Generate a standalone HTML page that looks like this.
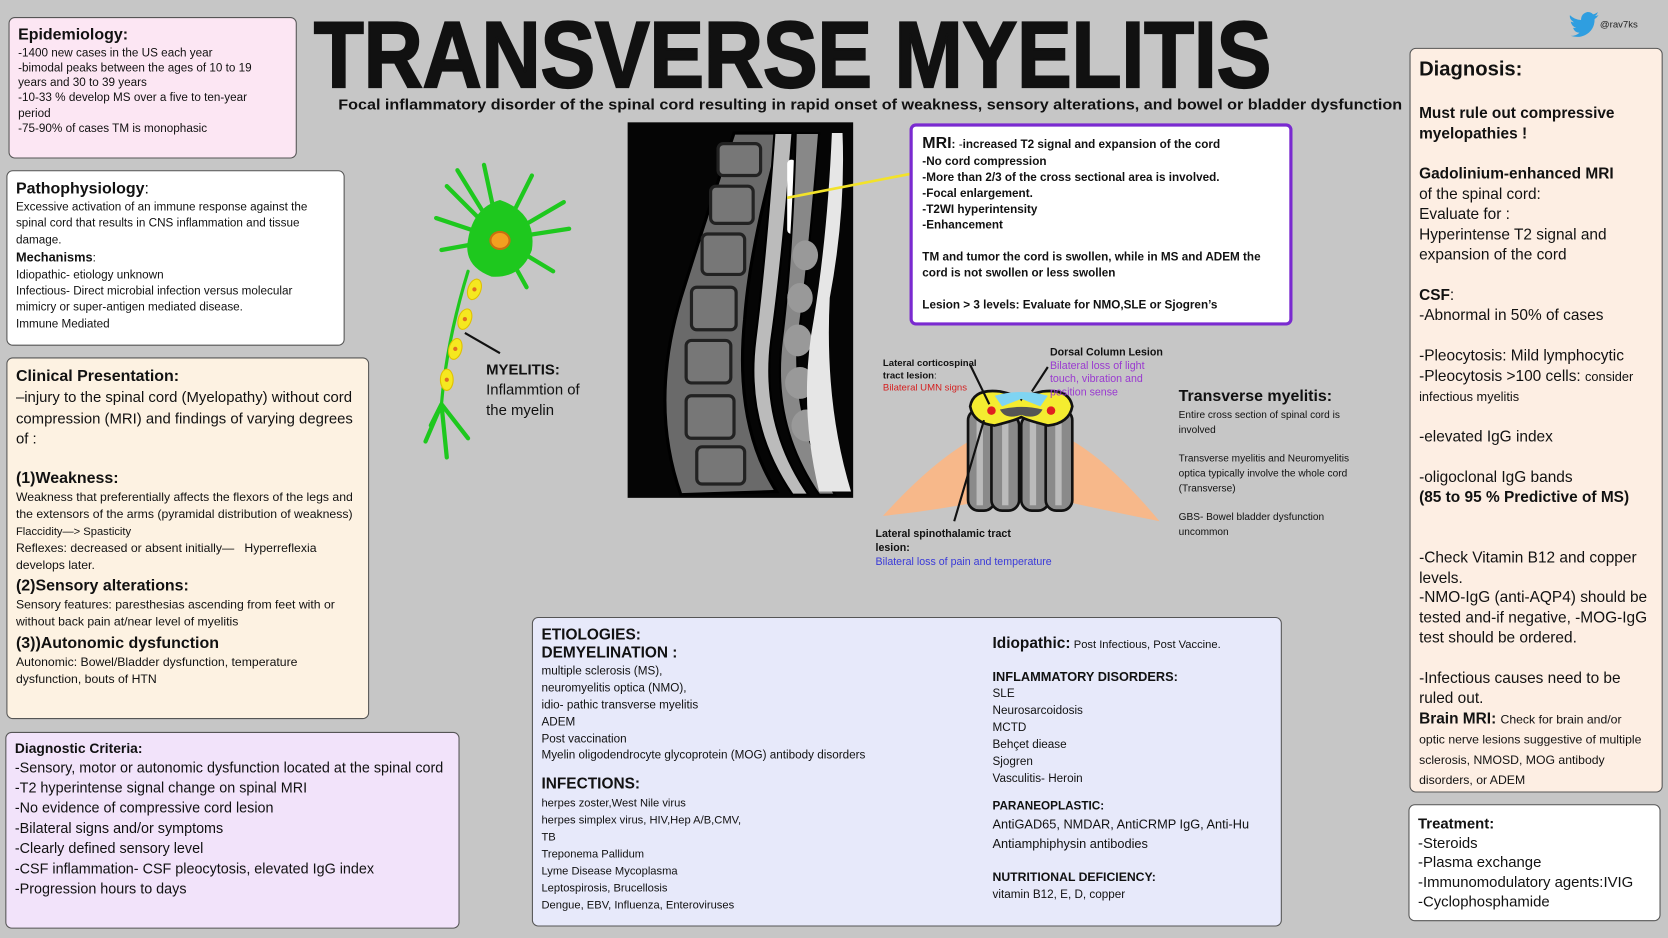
<!DOCTYPE html>
<html><head><meta charset="utf-8"><style>
html,body{margin:0;padding:0;width:1668px;height:938px;overflow:hidden;background:#c6c6c6;}
#w{position:absolute;left:0;top:0;width:1568px;height:882px;transform:scale(1.06378);transform-origin:0 0;font-family:"Liberation Sans","DejaVu Sans",sans-serif;color:#111;}
.b{position:absolute;border:1.5px solid #555;border-radius:6px;box-sizing:border-box;padding:6px 8px;line-height:1.3;}
.h{font-weight:bold;}
.abs{position:absolute;}
p{margin:0}
</style></head><body><div id="w">

<svg class="abs" style="left:0;top:0" width="1568" height="882">
<text x="295" y="82" font-family="Liberation Sans" font-weight="900" font-size="88" textLength="900" lengthAdjust="spacingAndGlyphs" fill="#111" stroke="#111" stroke-width="2">TRANSVERSE MYELITIS</text>
<text x="318" y="103" font-family="Liberation Sans" font-weight="bold" font-size="13.5" textLength="1000" lengthAdjust="spacingAndGlyphs" fill="#111">Focal inflammatory disorder of the spinal cord resulting in rapid onset of weakness, sensory alterations, and bowel or bladder dysfunction</text>
<g transform="translate(1475,9) scale(0.75)">
<path d="M1 7 q6 6 14 6 q0-8 8-10 q5 0 7 3 q4-1 6-3 q-1 4-4 5 q3 0 5-1 q-2 3-5 5 q0 14-12 20 q-8 4-18 1 q7 0 11-4 q-6 0-8-6 q2 0 4 0 q-6-2-7-8 q2 1 4 1 q-6-4-5-9z" fill="#2f9ee0"/></g>
<text x="1504" y="26" font-size="9" fill="#222">@rav7ks</text>
<rect x="590" y="115" width="212" height="353" fill="#050505"/>
<path d="M640 465 Q610 380 640 280 Q665 200 690 125 L735 125 Q705 230 700 300 Q690 400 730 462 Z" fill="#6a6a6a" stroke="#000" stroke-width="3"/>
<g fill="#777" stroke="#222" stroke-width="3">
<rect x="675" y="135" width="40" height="30" rx="5"/><rect x="668" y="175" width="40" height="35" rx="5"/><rect x="660" y="220" width="40" height="38" rx="5"/><rect x="650" y="270" width="42" height="40" rx="5"/><rect x="645" y="320" width="42" height="40" rx="5"/><rect x="645" y="372" width="45" height="40" rx="5"/><rect x="655" y="420" width="45" height="35" rx="5"/></g>
<path d="M728 125 L745 125 Q735 250 725 320 Q715 400 760 465 L745 465 Q700 400 710 320 Q720 240 728 125Z" fill="#bbb" stroke="#000" stroke-width="2"/>
<rect x="740" y="150" width="8" height="70" rx="4" fill="#fff"/>
<path d="M748 125 L770 125 Q760 250 750 320 Q745 400 785 465 L770 465 Q725 400 735 320 Q745 240 748 125Z" fill="#888" stroke="#000" stroke-width="2"/>
<g fill="#999"><ellipse cx="757" cy="240" rx="12" ry="14"/><ellipse cx="752" cy="280" rx="12" ry="14"/><ellipse cx="750" cy="320" rx="13" ry="15"/><ellipse cx="752" cy="360" rx="14" ry="15"/><ellipse cx="758" cy="400" rx="14" ry="15"/></g>
<path d="M782 125 L792 125 Q795 200 780 280 Q775 380 800 462 L770 462 Q750 380 765 300 Q778 220 782 125Z" fill="#e6e6e6"/>
<line x1="740" y1="186" x2="858" y2="163" stroke="#f2e22a" stroke-width="2.5"/>
<g stroke="#1ec81e" stroke-width="4" fill="none" stroke-linecap="round">
<path d="M470 225 L420 175 M470 225 L430 160 M470 225 L455 155 M470 225 L500 165 M470 225 L530 190 M470 225 L535 215 M470 225 L520 255 M470 225 L495 270 M470 225 L415 235 M470 225 L410 205"/>
<path d="M440 255 Q420 320 415 380" stroke-width="3"/>
<path d="M415 380 L400 415 M415 380 L420 430 M415 380 L440 412 M415 380 L405 400"/>
</g>
<path d="M470 188 Q505 200 500 235 Q490 262 462 260 Q435 250 440 225 Q445 195 470 188Z" fill="#1ec81e"/>
<ellipse cx="470" cy="226" rx="9" ry="8" fill="#f3a020" stroke="#c67010" stroke-width="2"/>
<g fill="#f5e820" stroke="#e0c000"><ellipse cx="446" cy="272" rx="6" ry="10" transform="rotate(20 446 272)"/><ellipse cx="437" cy="300" rx="6" ry="10" transform="rotate(20 437 300)"/><ellipse cx="428" cy="328" rx="6" ry="10" transform="rotate(15 428 328)"/><ellipse cx="420" cy="357" rx="6" ry="10"/></g>
<g fill="#e07020"><circle cx="446" cy="272" r="2"/><circle cx="437" cy="300" r="2"/><circle cx="428" cy="328" r="2"/><circle cx="420" cy="357" r="2"/></g>
<line x1="437" y1="313" x2="470" y2="332" stroke="#111" stroke-width="2"/>
<path d="M830 485 Q880 430 920 410 L928 470 Q880 480 830 485Z" fill="#f7b88a"/>
<path d="M1090 490 Q1040 430 1000 410 L995 470 Q1040 480 1090 490Z" fill="#f7b88a"/>
<g fill="#8a8a8a" stroke="#111" stroke-width="2.5"><rect x="910" y="385" width="25" height="95" rx="10"/><rect x="932" y="390" width="26" height="90" rx="10"/><rect x="960" y="390" width="26" height="90" rx="10"/><rect x="983" y="385" width="25" height="95" rx="10"/></g>
<g fill="#bbb"><rect x="918" y="395" width="6" height="80"/><rect x="942" y="395" width="6" height="80"/><rect x="968" y="395" width="6" height="80"/><rect x="992" y="395" width="6" height="80"/></g>
<path d="M912 382 Q915 365 940 368 Q958 372 960 375 Q962 372 980 368 Q1005 365 1008 382 Q1005 398 985 400 Q965 395 960 392 Q955 395 935 400 Q915 398 912 382Z" fill="#f4ec30" stroke="#111" stroke-width="2.5"/>
<path d="M935 372 Q960 365 985 372 L978 382 L960 375 L942 382Z" fill="#7fd4f2"/>
<path d="M940 385 Q960 380 980 385 Q975 395 960 390 Q945 395 940 385Z" fill="#555"/>
<circle cx="932" cy="386" r="4" fill="#e02020"/><circle cx="988" cy="386" r="4" fill="#e02020"/>
<line x1="912" y1="343" x2="930" y2="380" stroke="#111" stroke-width="2"/>
<line x1="970" y1="368" x2="985" y2="345" stroke="#111" stroke-width="2"/>
<line x1="925" y1="395" x2="897" y2="490" stroke="#111" stroke-width="2"/>
</svg>

<div class="abs" style="left:457px;top:338px;font-size:14px;line-height:1.35"><b>MYELITIS:</b><br>Inflammtion of<br>the myelin</div>

<div class="abs" style="left:830px;top:336px;font-size:9px;line-height:1.3"><b>Lateral corticospinal<br>tract lesion</b>:<br><span style="color:#d42020">Bilateral UMN signs</span></div>
<div class="abs" style="left:987px;top:326px;font-size:10px;line-height:1.25"><b>Dorsal Column Lesion</b><br><span style="color:#9a3ad0">Bilateral loss of light<br>touch, vibration and<br>position sense</span></div>
<div class="abs" style="left:823px;top:496px;font-size:10px;line-height:1.3"><b>Lateral spinothalamic tract<br>lesion:</b><br><span style="color:#3a3ad8">Bilateral loss of pain and temperature</span></div>
<div class="abs" style="left:1108px;top:362px;font-size:9.5px;line-height:1.45;width:178px"><div style="font-size:15px;font-weight:bold;width:220px">Transverse myelitis:</div>Entire cross section of spinal cord is involved<br><br>Transverse myelitis and Neuromyelitis optica typically involve the whole cord (Transverse)<br><br>GBS- Bowel bladder dysfunction uncommon</div>

<div class="b" style="left:8px;top:16px;width:271px;height:133px;background:#fce6f3;font-size:11px;padding-right:22px"><div class="h" style="font-size:15px">Epidemiology:</div>-1400 new cases in the US each year<br>-bimodal peaks between the ages of 10 to 19 years and 30 to 39 years<br>-10-33 % develop MS over a five to ten-year period<br>-75-90% of cases TM is monophasic</div>

<div class="b" style="left:6px;top:160px;width:318px;height:165px;background:#fff;font-size:11px;line-height:1.4"><div style="font-size:15px"><b>Pathophysiology</b>:</div>Excessive activation of an immune response against the spinal cord that results in CNS inflammation and tissue damage.<br><b style="font-size:12px">Mechanisms</b>:<br>Idiopathic- etiology unknown<br>Infectious- Direct microbial infection versus molecular mimicry or super-antigen mediated disease.<br>Immune Mediated</div>

<div class="b" style="left:6px;top:336px;width:341px;height:340px;background:#fdf2e2;font-size:11.5px;line-height:1.4;padding-right:14px"><div class="h" style="font-size:15px">Clinical Presentation:</div><div style="font-size:14px;line-height:1.4">–injury to the spinal cord (Myelopathy) without cord compression (MRI) and findings of varying degrees of :</div><br><div class="h" style="font-size:15px">(1)Weakness:</div>Weakness that preferentially affects the flexors of the legs and the extensors of the arms (pyramidal distribution of weakness)<br><span style="font-size:10.5px">Flaccidity—&gt; Spasticity</span><br>Reflexes: decreased or absent initially—&nbsp;&nbsp; Hyperreflexia develops later.<div class="h" style="font-size:15px">(2)Sensory alterations:</div>Sensory features: paresthesias ascending from feet with or without back pain at/near level of myelitis<div class="h" style="font-size:15px">(3))Autonomic dysfunction</div>Autonomic: Bowel/Bladder dysfunction, temperature dysfunction, bouts of HTN</div>

<div class="b" style="left:5px;top:688px;width:427px;height:185px;background:#f2e3fa;font-size:13.5px;line-height:1.4"><div class="h" style="font-size:13px">Diagnostic Criteria:</div>-Sensory, motor or autonomic dysfunction located at the spinal cord<br>-T2 hyperintense signal change on spinal MRI<br>-No evidence of compressive cord lesion<br>-Bilateral signs and/or symptoms<br>-Clearly defined sensory level<br>-CSF inflammation- CSF pleocytosis, elevated IgG index<br>-Progression hours to days</div>

<div class="b" style="left:855px;top:116px;width:360px;height:190px;background:#fff;border:3px solid #7a2ad0;font-size:11px;font-weight:bold;line-height:1.36;padding:6px 9px"><span style="font-size:15px">MRI</span>: <span style="font-weight:normal">-</span>increased T2 signal and expansion of the cord<br>-No cord compression<br>-More than 2/3 of the cross sectional area is involved.<br>-Focal enlargement.<br>-T2WI hyperintensity<br>-Enhancement<br><br>TM and tumor the cord is swollen, while in MS and ADEM the cord is not swollen or less swollen<br><br>Lesion &gt; 3 levels: Evaluate for NMO,SLE or Sjogren’s</div>

<div class="b" style="left:500px;top:580px;width:705px;height:291px;background:#e7e9fa;font-size:11px;line-height:1.45;padding:8px 8px">
<div class="abs" style="left:8px;top:8px;width:420px"><div class="h" style="font-size:14.5px;line-height:1.2">ETIOLOGIES:<br>DEMYELINATION :</div>multiple sclerosis (MS),<br>neuromyelitis optica (NMO),<br>idio- pathic transverse myelitis<br>ADEM<br>Post vaccination<br>Myelin oligodendrocyte glycoprotein (MOG) antibody disorders<br><div class="h" style="font-size:14.5px;margin-top:8px">INFECTIONS:</div><span style="font-size:10.5px">herpes zoster,West Nile virus<br>herpes simplex virus, HIV,Hep A/B,CMV,<br>TB<br>Treponema Pallidum<br>Lyme Disease Mycoplasma<br>Leptospirosis, Brucellosis<br>Dengue, EBV, Influenza, Enteroviruses</span></div>
<div class="abs" style="left:432px;top:14px;width:270px"><span class="h" style="font-size:14.5px">Idiopathic:</span> <span style="font-size:10.5px">Post Infectious, Post Vaccine.</span><div class="h" style="font-size:12px;margin-top:12px">INFLAMMATORY DISORDERS:</div>SLE<br>Neurosarcoidosis<br>MCTD<br>Behçet diease<br>Sjogren<br>Vasculitis- Heroin<div class="h" style="font-size:11px;margin-top:10px">PARANEOPLASTIC:</div><span style="font-size:12px">AntiGAD65, NMDAR, AntiCRMP IgG, Anti-Hu<br>Antiamphiphysin antibodies</span><div class="h" style="font-size:11.5px;margin-top:14px">NUTRITIONAL DEFICIENCY:</div>vitamin B12, E, D, copper</div>
</div>

<div class="b" style="left:1325px;top:45px;width:238px;height:700px;background:#fdeee3;font-size:14.5px;line-height:1.31;padding:8px 12px 8px 8px"><div class="h" style="font-size:19px">Diagnosis:</div><br><b>Must rule out compressive myelopathies !</b><br><br><b>Gadolinium-enhanced MRI</b><br>of the spinal cord:<br>Evaluate for :<br>Hyperintense T2 signal and expansion of the cord<br><br><b>CSF</b>:<br>-Abnormal in 50% of cases<br><br>-Pleocytosis: Mild lymphocytic<br>-Pleocytosis &gt;100 cells: <span style="font-size:12px">consider infectious myelitis</span><br><br>-elevated IgG index<br><br>-oligoclonal IgG bands<br><b>(85 to 95 % Predictive of MS)</b><br><br><br>-Check Vitamin B12 and copper levels.<br>-NMO-IgG (anti-AQP4) should be tested and-if negative, -MOG-IgG test should be ordered.<br><br>-Infectious causes need to be ruled out.<br><b>Brain MRI:</b> <span style="font-size:11.5px;line-height:1.25">Check for brain and/or optic nerve lesions suggestive of multiple sclerosis, NMOSD, MOG antibody disorders, or ADEM</span></div>

<div class="b" style="left:1324px;top:756px;width:237px;height:110px;background:#fff;font-size:14px;line-height:1.3;padding:8px"><div class="h" style="font-size:14px">Treatment:</div>-Steroids<br>-Plasma exchange<br>-Immunomodulatory agents:IVIG<br>-Cyclophosphamide</div>

</div></body></html>
